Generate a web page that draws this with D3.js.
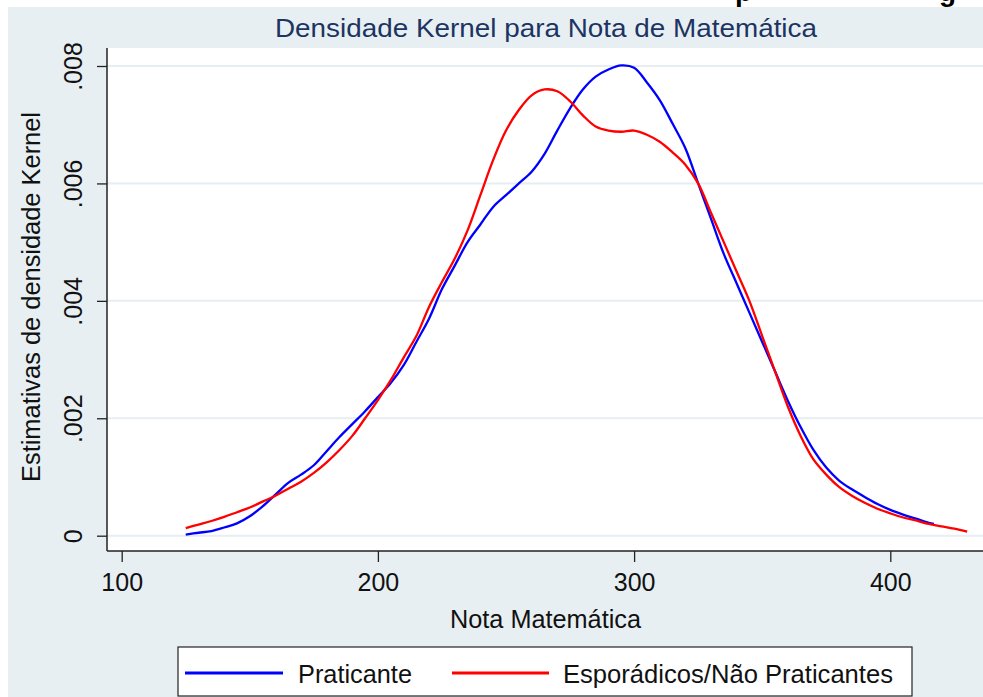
<!DOCTYPE html>
<html>
<head>
<meta charset="utf-8">
<script src="https://cdn.jsdelivr.net/npm/d3@7/dist/d3.min.js"></script>
<style>
  html, body { margin: 0; padding: 0; background: #ffffff; }
  svg { display: block; }
  text { font-family: "Liberation Sans", Arial, sans-serif; }
</style>
</head>
<body>
<svg id="chart" width="983" height="697"></svg>
<script>
// Kernel density estimates of the math score, by sport practice group
const praticanteX = [125,130,135,140,145,150,155,160,165,170,175,180,185,190,195,200,205,210,215,220,225,230,235,240,245,250,255,260,265,270,275,280,285,290,295,300,305,310,315,320,325,330,335,340,345,350,355,360,365,370,375,380,385,390,395,400,405,410,415,417];
const praticanteY = [0.00002,0.00005,0.00008,0.00014,0.00021,0.00033,0.0005,0.0007,0.0009,0.00104,0.0012,0.00144,0.00168,0.0019,0.00212,0.00236,0.0026,0.0029,0.0033,0.0037,0.0042,0.0046,0.005,0.0053,0.0056,0.0058,0.006,0.0062,0.0065,0.0069,0.00728,0.0076,0.00782,0.00794,0.00801,0.00797,0.00772,0.00742,0.00702,0.0066,0.006,0.0054,0.0048,0.0043,0.0038,0.0033,0.0028,0.0023,0.00185,0.00146,0.00116,0.00094,0.00079,0.00066,0.00054,0.00044,0.00036,0.00029,0.00022,0.0002];

const esporadicosX = [125,130,135,140,145,150,155,160,165,170,175,180,185,190,195,200,205,210,215,220,225,230,235,240,245,250,255,260,265,270,275,280,285,290,295,300,305,310,315,320,325,330,335,340,345,350,355,360,365,370,375,380,385,390,395,400,405,410,415,420,425,430];
const esporadicosY = [0.00013,0.00019,0.00025,0.00032,0.0004,0.00048,0.00058,0.00068,0.0008,0.00092,0.00107,0.00125,0.00146,0.0017,0.002,0.00231,0.00265,0.00303,0.0034,0.0039,0.00432,0.00472,0.0052,0.0058,0.0064,0.0069,0.00725,0.0075,0.0076,0.00757,0.0074,0.00716,0.00697,0.0069,0.00688,0.0069,0.00683,0.00671,0.00653,0.00632,0.006,0.0055,0.005,0.0045,0.004,0.0034,0.0028,0.0022,0.0017,0.0013,0.00104,0.00083,0.00068,0.00056,0.00046,0.00038,0.00031,0.00026,0.0002,0.00016,0.00012,0.00007];

const xTicks = [100, 200, 300, 400];
const yTicks = [0, 0.002, 0.004, 0.006, 0.008];
const yTickLabels = ["0", ".002", ".004", ".006", ".008"];

const seriesNames = ["Praticante", "Esporádicos/Não Praticantes"];
const seriesColors = ["#0000ff", "#ff0000"];

const titleText = "Densidade Kernel para Nota de Matemática";
const xTitle = "Nota Matemática";
const yTitle = "Estimativas de densidade Kernel";

const W = 983, H = 697;
const bg = "#e8eff2";
const svg = d3.select("#chart");

// page margin strips and graph region
svg.append("rect").attr("x", 0).attr("y", 0).attr("width", W).attr("height", H).attr("fill", "#ffffff");
svg.append("rect").attr("x", 8).attr("y", 7).attr("width", W - 8).attr("height", H - 7).attr("fill", bg);

// line of document text above the graph, mostly cut off by the page edge
const topLine = svg.append("g").attr("font-family", "'Liberation Serif', 'Times New Roman', serif")
  .attr("font-weight", "bold").attr("font-size", 28).attr("fill", "#000");
topLine.append("text").attr("x", 735).attr("y", 1).text("p");
topLine.append("text").attr("x", 939).attr("y", 1).text("g");

// plot region
const plotLeft = 107, plotTop = 48, plotBottom = 551;
svg.append("rect").attr("x", plotLeft).attr("y", plotTop)
  .attr("width", W - plotLeft).attr("height", plotBottom - plotTop).attr("fill", "#ffffff");

const x = d3.scaleLinear().domain([100, 400]).range([121.7, 890.3]);
const y = d3.scaleLinear().domain([0, 0.008]).range([535.7, 66]);

// horizontal gridlines
svg.append("g").selectAll("line").data(yTicks).join("line")
  .attr("x1", plotLeft).attr("x2", W)
  .attr("y1", d => y(d)).attr("y2", d => y(d))
  .attr("stroke", "#e6eef1").attr("stroke-width", 2);

// density curves
const line = d3.line().x(d => x(d[0])).y(d => y(d[1])).curve(d3.curveCatmullRom.alpha(0.5));
const series = [
  d3.zip(praticanteX, praticanteY),
  d3.zip(esporadicosX, esporadicosY)
];
svg.append("g").selectAll("path").data(series).join("path")
  .attr("d", line)
  .attr("fill", "none")
  .attr("stroke", (d, i) => seriesColors[i])
  .attr("stroke-width", 2.3)
  .attr("stroke-linejoin", "round");

// axes
const yAxis = d3.axisLeft(y).tickValues(yTicks).tickSize(10).tickSizeOuter(0)
  .tickFormat((d, i) => yTickLabels[i]);
const gy = svg.append("g").attr("transform", `translate(${plotLeft},0)`).call(yAxis);
gy.select(".domain").attr("d", `M0,${plotTop}V${plotBottom}`).attr("stroke", "#222").attr("stroke-width", 1.5);
gy.selectAll(".tick line").attr("stroke", "#222").attr("stroke-width", 1.3);
gy.selectAll(".tick text")
  .attr("x", null).attr("dy", null)
  .attr("transform", "translate(-25,0) rotate(-90)")
  .attr("text-anchor", "middle")
  .attr("font-size", 25)
  .attr("fill", "#111");

const xAxis = d3.axisBottom(x).tickValues(xTicks).tickSize(11).tickSizeOuter(0).tickFormat(d3.format("d"));
const gx = svg.append("g").attr("transform", `translate(0,${plotBottom})`).call(xAxis);
gx.select(".domain").attr("d", `M${plotLeft},0H${W}`).attr("stroke", "#222").attr("stroke-width", 1.5);
gx.selectAll(".tick line").attr("stroke", "#222").attr("stroke-width", 1.3);
gx.selectAll(".tick text")
  .attr("y", 40).attr("dy", null)
  .attr("font-size", 25)
  .attr("fill", "#111");

// titles
svg.append("text").attr("x", 275).attr("y", 37)
  .attr("font-size", 26).attr("fill", "#1c3462")
  .attr("textLength", 542).attr("lengthAdjust", "spacingAndGlyphs")
  .text(titleText);

svg.append("text").attr("x", 545.5).attr("y", 628)
  .attr("text-anchor", "middle").attr("font-size", 26).attr("fill", "#111")
  .attr("textLength", 191).attr("lengthAdjust", "spacingAndGlyphs")
  .text(xTitle);

svg.append("text").attr("transform", "translate(40,297) rotate(-90)")
  .attr("text-anchor", "middle").attr("font-size", 26).attr("fill", "#111")
  .attr("textLength", 370).attr("lengthAdjust", "spacingAndGlyphs")
  .text(yTitle);

// legend
const legend = svg.append("g");
legend.append("rect").attr("x", 178).attr("y", 647).attr("width", 734).attr("height", 49)
  .attr("fill", "#ffffff").attr("stroke", "#222").attr("stroke-width", 1.2);
const legendItems = [
  { x1: 185, x2: 283, tx: 298, tw: 114 },
  { x1: 452, x2: 549, tx: 563, tw: 330 }
];
legendItems.forEach((it, i) => {
  legend.append("line").attr("x1", it.x1).attr("x2", it.x2).attr("y1", 673).attr("y2", 673)
    .attr("stroke", seriesColors[i]).attr("stroke-width", 3);
  legend.append("text").attr("x", it.tx).attr("y", 683)
    .attr("font-size", 26).attr("fill", "#111")
    .attr("textLength", it.tw).attr("lengthAdjust", "spacingAndGlyphs")
    .text(seriesNames[i]);
});
</script>
</body>
</html>
